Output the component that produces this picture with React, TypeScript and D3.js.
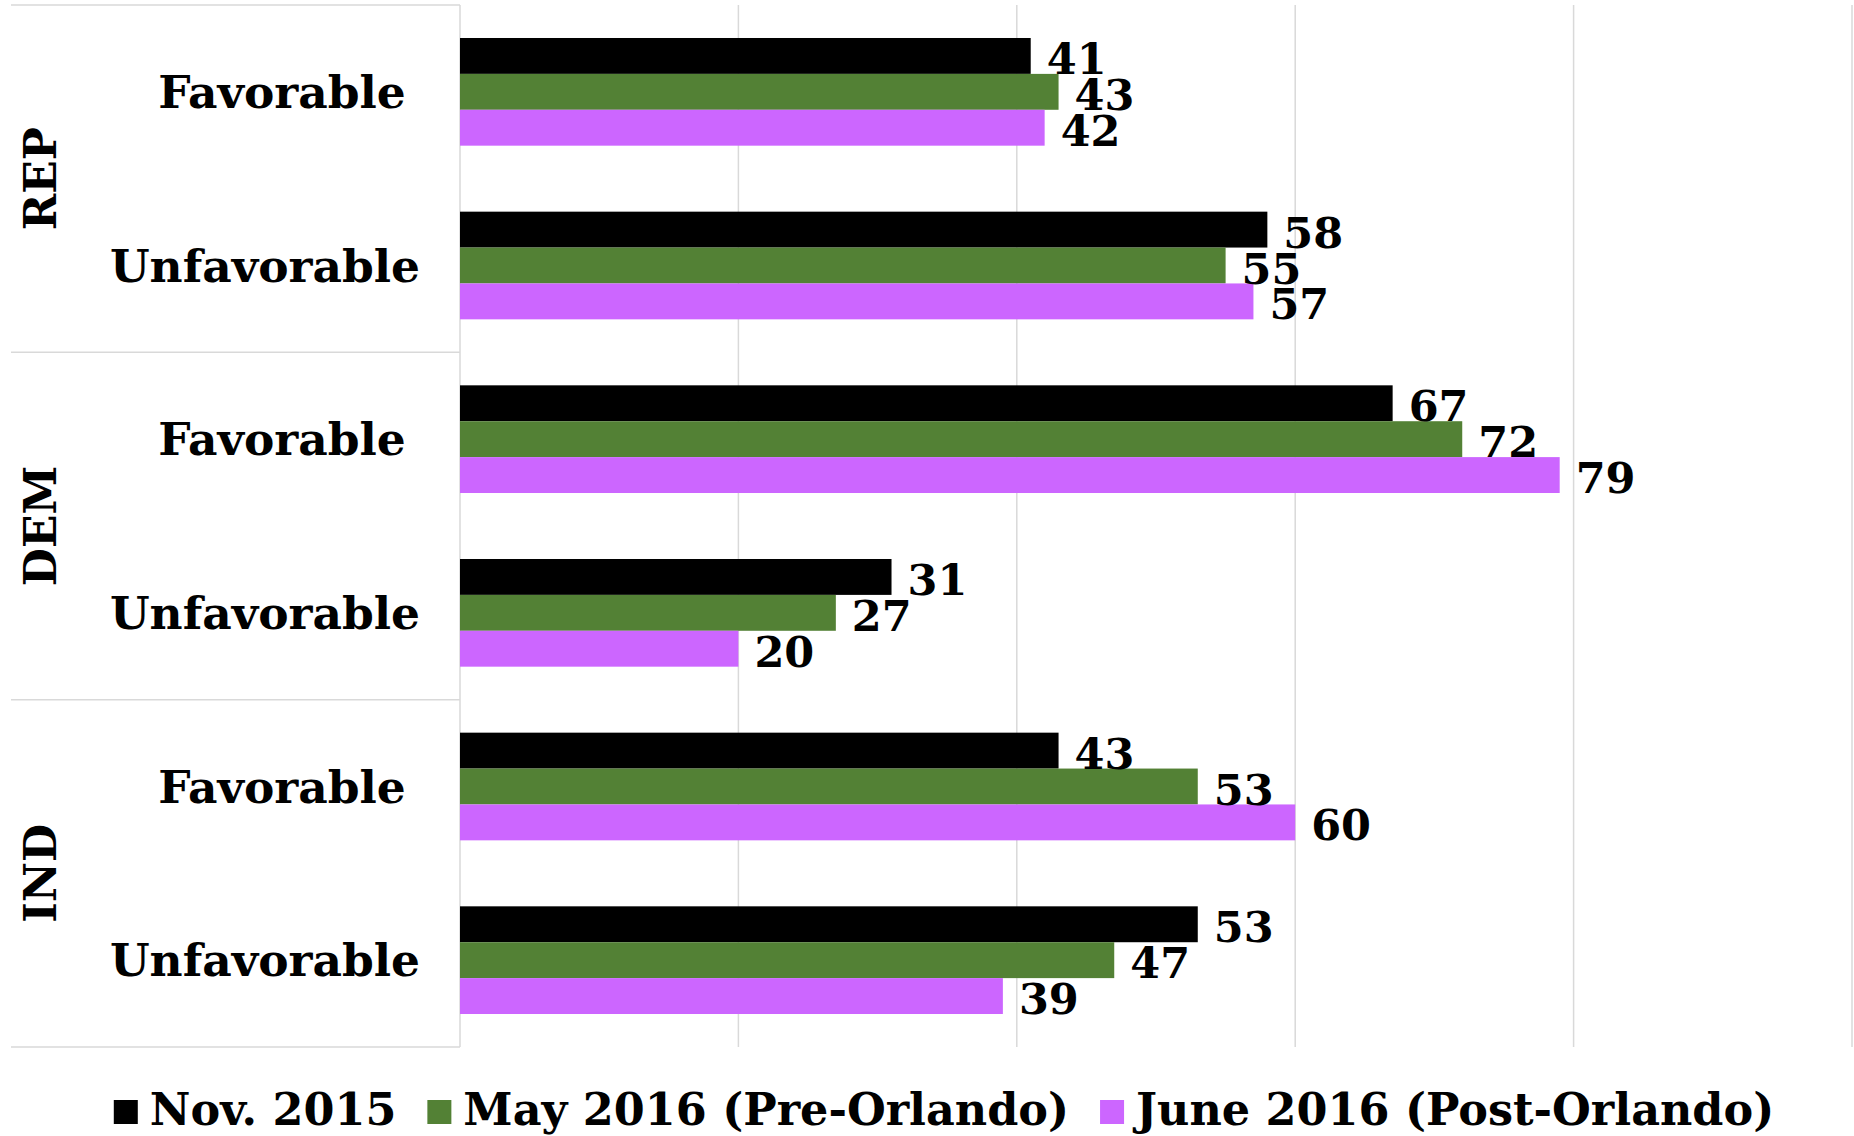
import React, { useEffect, useRef } from "react";
import * as d3 from "d3";

const groups = ["REP", "DEM", "IND"];
const categories = ["Favorable", "Unfavorable"];
const seriesNames = ["Nov. 2015", "May 2016 (Pre-Orlando)", "June 2016 (Post-Orlando)"];
const seriesColors = ["#000000", "#538135", "#CC66FF"];
// rows in order: REP Fav, REP Unfav, DEM Fav, DEM Unfav, IND Fav, IND Unfav
const nov2015 = [41, 58, 67, 31, 43, 53];
const may2016 = [43, 55, 72, 27, 53, 47];
const june2016 = [42, 57, 79, 20, 60, 39];
const xTicks = [0, 20, 40, 60, 80, 100];

const W = 1854;
const H = 1136;
const FONT = "'DejaVu Serif', serif";

export default function App() {
  const ref = useRef<SVGSVGElement | null>(null);

  useEffect(() => {
    document.body.style.margin = "0";
    const svg = d3.select(ref.current);
    svg.selectAll("*").remove();

    const top = 5, bottom = 1047, plotLeft = 460, plotRight = 1852, panelLeft = 11;
    const series = [nov2015, may2016, june2016];
    const rows: { key: string; group: string; cat: string; idx: number }[] = [];
    groups.forEach((g) => categories.forEach((c) => rows.push({ key: g + "|" + c, group: g, cat: c, idx: rows.length })));

    const x = d3.scaleLinear().domain([0, 100]).range([plotLeft, plotRight]);
    const y = d3.scaleBand<string>().domain(rows.map((r) => r.key)).range([top, bottom]).paddingInner(0.38).paddingOuter(0.19);
    const yInner = d3.scaleBand<string>().domain(seriesNames).range([0, y.bandwidth()]);
    const gBand = d3.scaleBand<string>().domain(groups).range([top, bottom]);

    const grid = "#d9d9d9";
    // gridlines
    svg.append("g").selectAll("line").data(xTicks).join("line")
      .attr("x1", (d) => x(d)).attr("x2", (d) => x(d))
      .attr("y1", top).attr("y2", bottom)
      .attr("stroke", grid).attr("stroke-width", 1.5);

    // left panel lines
    const bounds = groups.map((g) => gBand(g) as number).concat([bottom]);
    svg.append("g").selectAll("line").data(bounds).join("line")
      .attr("x1", panelLeft).attr("x2", plotLeft)
      .attr("y1", (d) => d).attr("y2", (d) => d)
      .attr("stroke", grid).attr("stroke-width", 1.5);

    // bars
    series.forEach((vals, si) => {
      const g = svg.append("g");
      g.selectAll("rect").data(rows).join("rect")
        .attr("x", x(0))
        .attr("y", (r) => (y(r.key) as number) + (yInner(seriesNames[si]) as number))
        .attr("width", (r) => x(vals[r.idx]) - x(0))
        .attr("height", yInner.bandwidth())
        .attr("fill", seriesColors[si]);
    });
    // labels
    series.forEach((vals, si) => {
      const g = svg.append("g");
      g.selectAll("text").data(rows).join("text")
        .attr("x", (r) => x(vals[r.idx]) + 16)
        .attr("y", (r) => (y(r.key) as number) + (yInner(seriesNames[si]) as number) + yInner.bandwidth() / 2 + 18)
        .attr("font-family", FONT).attr("font-weight", "bold").attr("font-size", 43)
        .attr("fill", "#000")
        .text((r) => String(vals[r.idx]));
    });

    // category labels
    svg.append("g").selectAll("text").data(rows).join("text")
      .attr("x", (r) => (r.cat === "Favorable" ? 282 : 265))
      .attr("y", (r) => (y(r.key) as number) + y.bandwidth() / 2 + 16)
      .attr("text-anchor", "middle")
      .attr("font-family", FONT).attr("font-weight", "bold").attr("font-size", 45.5)
      .text((r) => r.cat);

    // group labels
    svg.append("g").selectAll("text").data(groups).join("text")
      .attr("transform", (g) => `translate(${40},${(gBand(g) as number) + gBand.bandwidth() / 2}) rotate(-90)`)
      .attr("text-anchor", "middle").attr("dy", 16)
      .attr("font-family", FONT).attr("font-weight", "bold").attr("font-size", 44)
      .text((g) => g);

    // legend
    const leg = svg.append("g");
    const sq = 24, gapSqText = 12, gapItems = 31;
    const items = seriesNames.map((n, i) => {
      const it = leg.append("g");
      it.append("rect").attr("width", sq).attr("height", sq).attr("y", 1100).attr("fill", seriesColors[i]);
      const t = it.append("text").attr("x", sq + gapSqText).attr("y", 1125)
        .attr("font-family", FONT).attr("font-weight", "bold").attr("font-size", 44.5).text(n);
      const w = (t.node() as SVGTextElement).getComputedTextLength();
      return { it, w: sq + gapSqText + w };
    });
    const total = d3.sum(items, (d) => d.w) + gapItems * (items.length - 1);
    let cx = 944 - total / 2;
    items.forEach((d) => {
      d.it.attr("transform", `translate(${cx},0)`);
      cx += d.w + gapItems;
    });
  }, []);

  return <svg ref={ref} width={W} height={H} style={{ display: "block", background: "#fff" }} />;
}
